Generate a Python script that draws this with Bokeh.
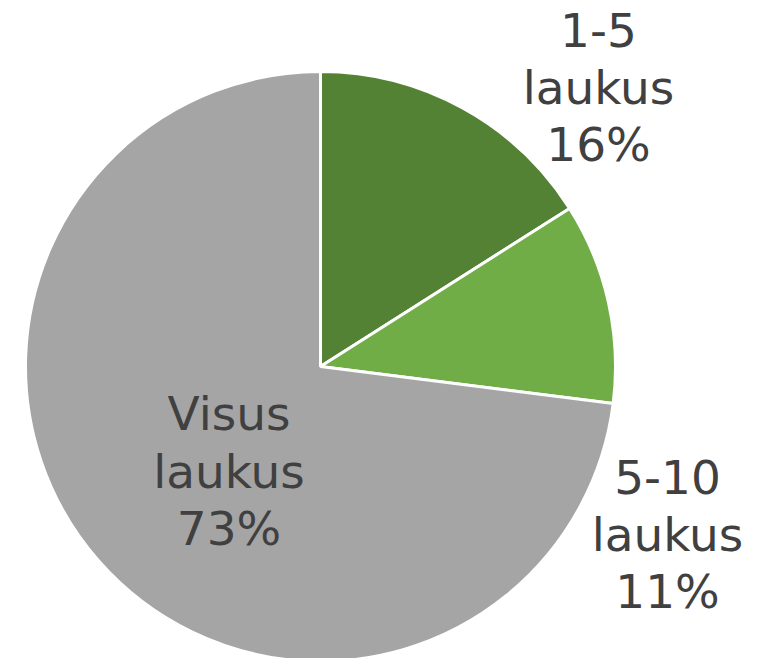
import math
from bokeh.plotting import figure
from bokeh.models import Range1d, ColumnDataSource
from bokeh.core.properties import value
from bokeh.embed import file_html
from bokeh.resources import INLINE

# ---- data ----
categories = ["1-5 laukus", "5-10 laukus", "Visus laukus"]
values = [16, 11, 73]
colors = ["#548235", "#70AD47", "#A5A5A5"]

# ---- layout (page pixel coords, y measured from top) ----
W, H = 766, 658
PAGE_H = 658
cx_px, cy_px, radius = 320, 366, 295
label_cx = [598, 667, 228.5]       # horizontal centre of each label block
label_first_baseline = [29, 476, 413]
line_step = 57.5
font_px = 47

def fy(py):
    return PAGE_H - py

total = sum(values)
starts, ends = [], []
cum = 0.0
for v in values:
    starts.append(math.pi / 2 - 2 * math.pi * cum / total)
    cum += v
    ends.append(math.pi / 2 - 2 * math.pi * cum / total)

wedge_src = ColumnDataSource(dict(
    x=[cx_px] * len(values), y=[fy(cy_px)] * len(values),
    start=starts, end=ends, color=colors,
))

p = figure(width=W, height=H, output_backend="svg", toolbar_location=None,
           x_range=Range1d(0, W), y_range=Range1d(PAGE_H - H, PAGE_H),
           min_border=0)
p.axis.visible = False
p.grid.visible = False
p.outline_line_color = None
p.background_fill_color = "white"
p.border_fill_color = "white"

p.wedge(x="x", y="y", radius=radius, start_angle="start", end_angle="end",
        direction="clock", fill_color="color", line_color="white",
        line_width=3, source=wedge_src)

tx, ty, tt = [], [], []
for i, (c, v) in enumerate(zip(categories, values)):
    lines = c.split(" ") + [f"{v}%"]
    for j, ln in enumerate(lines):
        tx.append(label_cx[i])
        ty.append(fy(label_first_baseline[i] + j * line_step))
        tt.append(ln)

p.text(x=tx, y=ty, text=tt, text_font=value("DejaVu Sans"),
       text_font_size=f"{font_px}px", text_color="#404040",
       text_align="center", text_baseline="alphabetic")

open("out.html", "w").write(file_html(p, INLINE))
